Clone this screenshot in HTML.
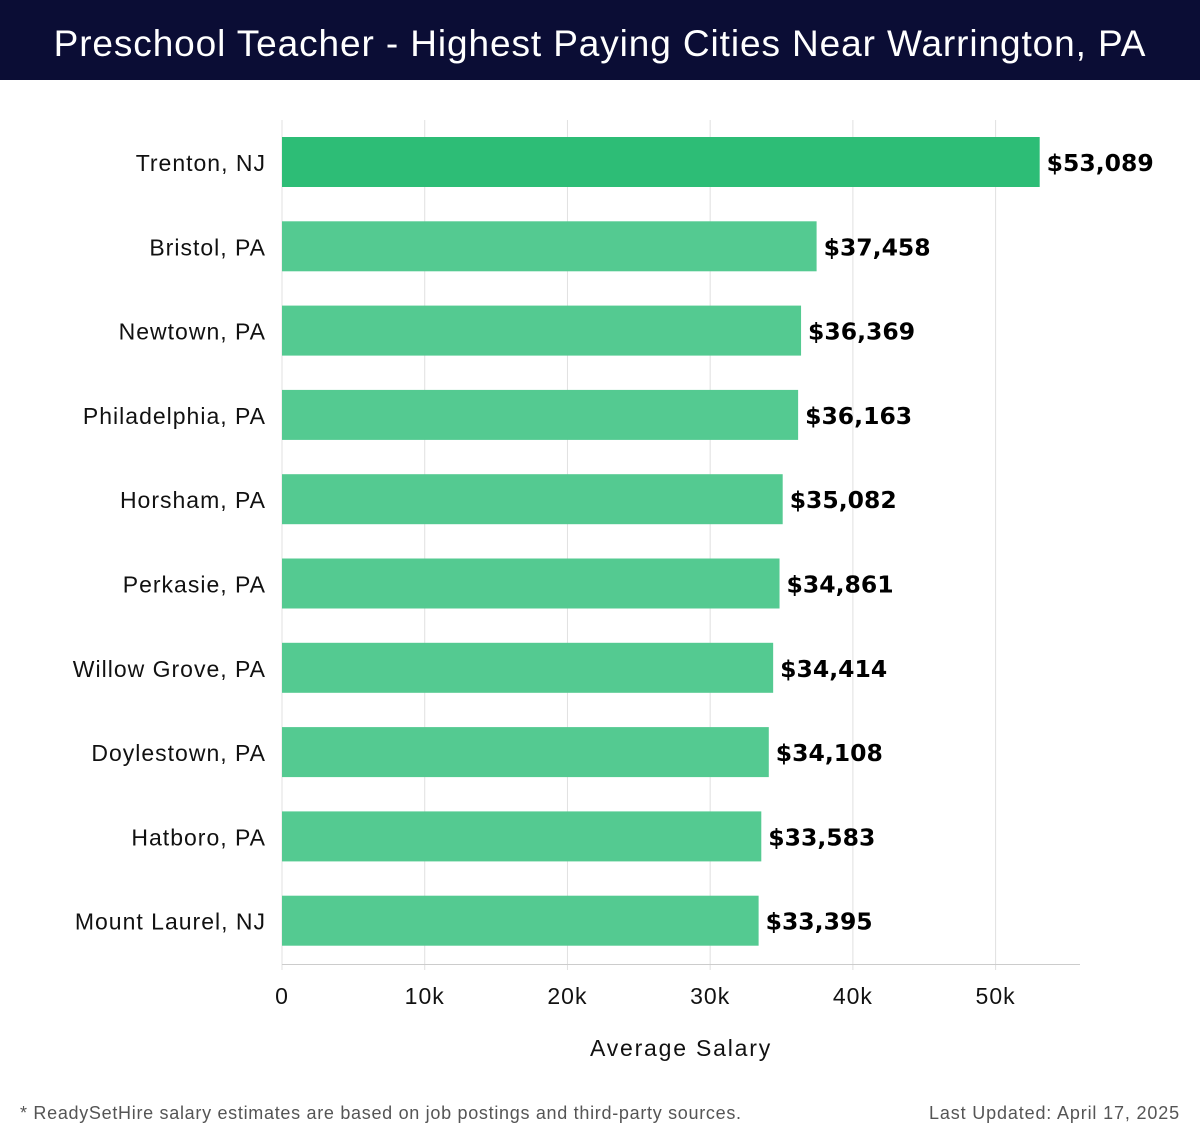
<!DOCTYPE html>
<html><head><meta charset="utf-8"><style>
body{margin:0;width:1200px;height:1140px;background:#fff;font-family:"Liberation Sans",sans-serif;overflow:hidden}
#hdr{position:absolute;left:0;top:0;width:1200px;height:80px;background:#0b0d35;color:#fff;font-size:37px;text-align:center;line-height:88px;letter-spacing:0.9px}
svg{position:absolute;left:0;top:0}
</style></head><body>
<div id="hdr">Preschool Teacher - Highest Paying Cities Near Warrington, PA</div>
<svg id="c" width="1200" height="1140"></svg>
<script>
const cities=["Trenton, NJ","Bristol, PA","Newtown, PA","Philadelphia, PA","Horsham, PA","Perkasie, PA","Willow Grove, PA","Doylestown, PA","Hatboro, PA","Mount Laurel, NJ"];
const salaries=[53089,37458,36369,36163,35082,34861,34414,34108,33583,33395];
const ticks=[0,10000,20000,30000,40000,50000];
const tickLabels=["0","10k","20k","30k","40k","50k"];
const NS="http://www.w3.org/2000/svg",svg=document.getElementById('c');
const x=v=>282+v*0.014272;
const y=i=>162+i*84.3;
function mk(t,a,txt){const e=document.createElementNS(NS,t);for(const k in a)e.setAttribute(k,a[k]);if(txt!=null)e.textContent=txt;svg.appendChild(e);return e;}
ticks.forEach((t,i)=>{
 const g=mk('line',{x1:x(t),x2:x(t),y1:120,y2:970,stroke:'#e0e0e0','stroke-width':1});
 
 
 const l=mk('text',{x:x(t),y:1004,'font-size':23,'text-anchor':'middle',fill:'#111','letter-spacing':1},tickLabels[i]);
 
 
});
const ax=mk('line',{x1:282,x2:1080,y1:964.5,y2:964.5,stroke:'#ccc','stroke-width':1});


cities.forEach((c,i)=>{
 const cy=y(i);
 const b=mk('rect',{x:282,y:cy-25,width:x(salaries[i])-282,height:50,fill:i==0?'#2dbd76':'#54ca91'});
 
 
 const l=mk('text',{x:266,y:cy+9,'font-size':23,'text-anchor':'end',fill:'#111','letter-spacing':1},c);
 
 
 const v=mk('text',{x:x(salaries[i])+7,y:cy+9,'font-size':23.5,'font-weight':'bold',fill:'#000','font-family':'"DejaVu Sans",sans-serif'},'$'+salaries[i].toLocaleString('en-US'));
 
 
});
const xt=mk('text',{x:681,y:1056,'font-size':23,'text-anchor':'middle',fill:'#111','letter-spacing':1.8},'Average Salary');


const f1=mk('text',{x:20,y:1119,'font-size':18,fill:'#555','letter-spacing':0.7},'* ReadySetHire salary estimates are based on job postings and third-party sources.');


const f2=mk('text',{x:1180,y:1119,'font-size':18,'text-anchor':'end',fill:'#555','letter-spacing':0.85},'Last Updated: April 17, 2025');


</script>
</body></html>
